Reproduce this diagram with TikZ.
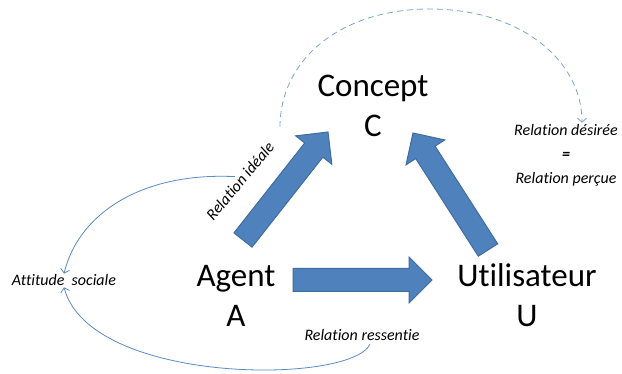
\documentclass[tikz,border=0pt]{standalone}
\usepackage{fontspec}
\setmainfont{Carlito}[Ligatures=NoCommon]
\usetikzlibrary{calc,arrows.meta}

\definecolor{bleuFleche}{HTML}{4F81BD}
\definecolor{bordFleche}{HTML}{3F6D9E}
\definecolor{bleuTrait}{HTML}{5A8AC6}
\definecolor{bleuTirets}{HTML}{7DA3D3}

% grosse fleche pleine entre deux points nommes
\newcommand\grossefleche[2]{%
	\coordinate (base-#1) at ($(#2)!23pt!(#1)$);
	\filldraw[fleche] ($(#1)!11.5pt!90:(#2)$) -- ($(base-#1)!11.5pt!90:(#2)$)
		-- ($(base-#1)!23pt!90:(#2)$) -- (#2) -- ($(base-#1)!23pt!-90:(#2)$)
		-- ($(base-#1)!11.5pt!-90:(#2)$) -- ($(#1)!11.5pt!-90:(#2)$) -- cycle;
}

\begin{document}
\begin{tikzpicture}[x=1pt,y=-1pt,
	titre/.style={font=\fontsize{33}{40}\selectfont, align=center, anchor=base, inner sep=0pt},
	note/.style={font=\fontsize{16}{24}\selectfont\itshape, align=center, anchor=base, inner sep=1pt},
	fleche/.style={fill=bleuFleche, draw=bordFleche, line width=1pt},
	lien/.style={draw=bleuTrait, line width=0.8pt, -{Straight Barb[length=4pt,width=9pt]}}]
	\useasboundingbox (0,0) rectangle (622,374);

	% le point "base" d'un noeud sur deux lignes est la ligne de base de la derniere
	\node[titre] (concept) at (373,137) {Concept\\C};
	\node[titre] (agent) at (236,327) {Agent\\A};
	\node[titre] (utilisateur) at (527,327) {Utilisateur\\U};

	\node[note] (attitude) at (64,286) {Attitude~ sociale};
	\node[note] (ressentie) at (362,341) {Relation ressentie};
	\node[note] (desiree) at (566,184) {Relation désirée\\\textbf{=}\\Relation perçue};
	\node[note, anchor=center, rotate=50] (ideale) at (240,181) {Relation idéale};

	% points des grosses fleches
	\coordinate (a-c) at (243,240);
	\coordinate (c-a) at (328,132);
	\coordinate (a-u) at (293,280);
	\coordinate (u-a) at (432,280);
	\coordinate (u-c) at (488,250);
	\coordinate (c-u) at (413,133);

	\grossefleche{a-c}{c-a}
	\grossefleche{a-u}{u-a}
	\grossefleche{u-c}{c-u}

	% liens fins
	\coordinate (ideale-haut) at (280,127);
	\draw[lien, draw=bleuTirets, dash pattern=on 6pt off 4pt] (ideale-haut) .. controls (280,60) and (340,9) .. (430,9)
		.. controls (520,9) and (582,60) .. ([xshift=16pt,yshift=1pt]desiree.north);
	\draw[lien] (ideale.north) .. controls (140,172) and (78,215) .. (attitude.north);
	\draw[lien] ([xshift=8pt,yshift=-2pt]ressentie.south) .. controls (350,385) and (90,385) .. (attitude.south);
\end{tikzpicture}
\end{document}
